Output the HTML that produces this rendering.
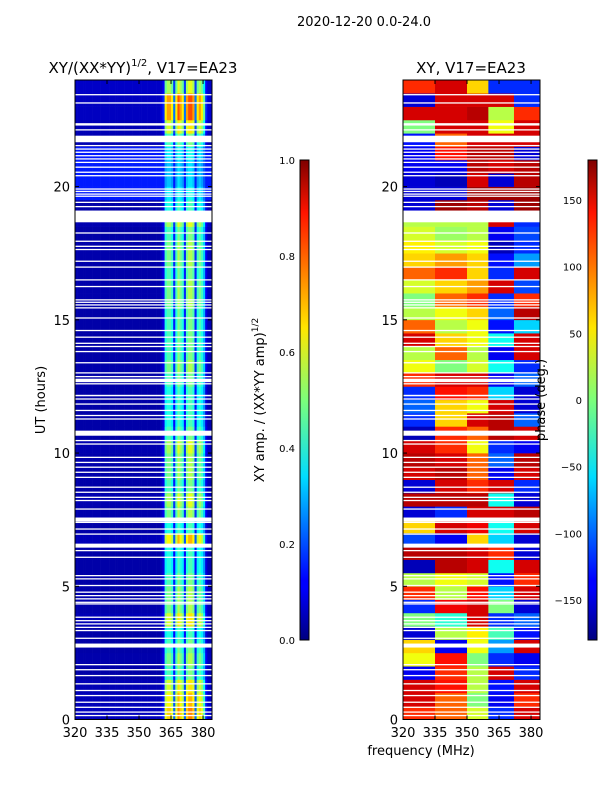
<!DOCTYPE html>
<html><head><meta charset="utf-8"><style>
body{margin:0;background:#fff;width:600px;height:800px;overflow:hidden}
svg{display:block;font-family:"DejaVu Sans","Liberation Sans",sans-serif}
</style></head><body>
<svg id="fig" width="600" height="800" xmlns="http://www.w3.org/2000/svg">
<defs>
<linearGradient id="jet" x1="0" y1="1" x2="0" y2="0">
<stop offset="0" stop-color="#00007f"/><stop offset="0.11" stop-color="#0000ff"/><stop offset="0.125" stop-color="#0000ff"/>
<stop offset="0.34" stop-color="#00dcff"/><stop offset="0.5" stop-color="#7cff7a"/><stop offset="0.65" stop-color="#ffe600"/>
<stop offset="0.89" stop-color="#ff1400"/><stop offset="1" stop-color="#7f0000"/>
</linearGradient>
</defs>
<text x="364" y="26" font-size="13" text-anchor="middle">2020-12-20 0.0-24.0</text>
<text x="143" y="73" font-size="15" text-anchor="middle">XY/(XX*YY)<tspan font-size="10" dy="-7">1/2</tspan><tspan dy="7">, V17=EA23</tspan></text>
<text x="471" y="73" font-size="15" text-anchor="middle">XY, V17=EA23</text>
<g id="left"></g>
<g id="right"></g>
<g id="axes"></g>
<text transform="translate(45,400) rotate(-90)" font-size="13" text-anchor="middle">UT (hours)</text>
<text x="421" y="755" font-size="13" text-anchor="middle">frequency (MHz)</text>
<rect x="300" y="160" width="9" height="480" fill="url(#jet)" stroke="#000" stroke-width="1"/>
<rect x="588" y="160" width="9" height="480" fill="url(#jet)" stroke="#000" stroke-width="1"/>
<text transform="translate(264,400) rotate(-90)" font-size="13" text-anchor="middle">XY amp. / (XX*YY amp)<tspan font-size="9" dy="-6">1/2</tspan></text>
<text transform="translate(545,400) rotate(-90)" font-size="13" text-anchor="middle">phase (deg.)</text>
</svg>
<script>
const colAmp=[0.04,0.04,0.04,0.04,0.04,0.04,0.04,0.04,0.04,0.04,0.04,0.04,0.04,0.04,0.04,0.04,0.04,0.04,0.04,0.04,0.04,0.04,0.04,0.04,0.04,0.04,0.04,0.04,0.04,0.04,0.04,0.04,0.04,0.04,0.04,0.04,0.04,0.04,0.04,0.04,
0.06,0.1,0.4,0.45,0.45,0.4,0.15,0.4,0.5,0.45,0.4,0.15,0.45,0.5,0.5,0.45,0.15,0.4,0.45,0.4,0.3,0.1,0.05,0.05];
const rowScale=[1.5,1.4,1.3,1.0,1.1,1.0,0.9,1.3,1.1,1.1,1.0,0.9,0.9,1.4,0.9,1.1,1.2,1.0,1.1,1.1,1.2,1.0,0.9,0.9,0.9,1.0,1.1,1.0,1.0,1.0,1.0,1.1,1.1,1.0,1.1,1.1,1.0,1.2,0.9,0.8,0.7,0.7,0.8,1.0,1.3,1.6,1.6,1.2];
const lowBg=[0.04,0.04,0.04,0.04,0.04,0.04,0.04,0.04,0.04,0.04,0.04,0.04,0.04,0.04,0.04,0.04,0.04,0.04,0.04,0.04,0.04,0.04,0.04,0.04,0.04,0.04,0.04,0.04,0.04,0.04,0.04,0.04,0.04,0.04,0.04,0.04,0.04,0.04,0.04,0.15,0.15,0.15,0.15,0.05,0.05,0.05,0.05,0.07];
const bandEdges=[320,335,350,360,372,384.2];
const phase=[[120,100,30,-120,150],[150,100,0,-140,120],[150,130,20,-130,150],[-140,120,20,150,-120],[40,130,0,-120,-140],[60,-140,40,-80,150],
[-150,20,50,-20,-130],[0,-30,150,-120,-100],[-120,140,150,0,-150],[120,20,130,-60,150],[20,40,30,-130,120],[-160,160,150,-40,150],
[160,160,150,120,-150],[-110,-140,60,-60,-150],[60,150,140,-40,150],[-150,-120,150,150,160],[160,160,160,-40,-150],[-150,150,120,150,-120],
[150,160,100,-140,150],[160,150,100,-100,160],[150,120,40,-120,-140],[-160,120,100,160,150],[-120,60,150,160,-100],[-100,60,40,150,-150],
[-120,130,120,-60,-150],[120,150,150,-140,-100],[40,0,30,-40,-120],[20,100,20,-140,150],[150,60,40,-40,150],[100,20,40,-130,-60],
[20,40,60,-100,160],[0,100,120,-120,120],[30,60,80,150,-110],[100,120,60,-120,150],[60,80,60,-130,-80],[50,30,40,-160,-120],
[30,10,20,-140,-110],[20,20,20,150,-120],[-150,170,160,-150,170],[-150,-150,170,170,170],[-150,-160,150,-150,160],[-140,-140,160,150,160],
[-140,130,160,160,-150],[-130,100,150,150,150],[0,150,150,40,150],[150,150,160,20,120],[-150,150,150,150,-120],[120,150,60,-120,-120]];
const flagThick=[[10.65,10.84],[7.43,7.58],[6.45,6.6],[2.7,2.85],[22.29,22.38],[21.7,21.91],[18.66,19.1],[12.66,12.79]];
const flagThin=[12.16,12.03,11.84,11.6,11.41,11.28,10.47,10.34,9.84,9.65,9.47,9.28,9.09,8.72,8.53,8.34,8.22,7.9,7.4,7.15,6.96,6.34,6.09,5.4,5.28,5.03,4.78,4.65,4.53,4.4,4.34,3.84,3.71,3.59,3.46,3.34,3.05,2.06,1.87,1.65,1.34,1.09,0.9,0.65,0.46,0.28,0.15,
23.45,23.14,22.13,21.69,21.54,21.41,21.29,21.16,21.04,20.91,20.73,20.54,20.41,19.91,19.82,19.72,19.64,19.41,19.25,18.26,17.95,17.76,17.64,17.2,16.98,16.5,16.25,15.75,15.66,15.56,15.45,15.07,14.6,14.35,14.12,14.0,13.81,13.39,13.01,12.87,12.6,12.16];
const xTicks=[320,335,350,365,380];
const yTicks=[0,5,10,15,20];
const cb1Ticks=[0,0.2,0.4,0.6,0.8,1.0];
const cb2Ticks=[-150,-100,-50,0,50,100,150];

const NS="http://www.w3.org/2000/svg";
const PT=80,PB=719.5,W=137,LX=75,RX=403;
const fMin=320,fMax=384.2;
const yS=h=>PB-(PB-PT)*h/24;
const xS=(x0,f)=>x0+W*(f-fMin)/(fMax-fMin);
function jet(v){v=Math.max(0,Math.min(1,v));
 const r=Math.max(0,Math.min(1,1.5-Math.abs(4*v-3))),g=Math.max(0,Math.min(1,1.5-Math.abs(4*v-2))),b=Math.max(0,Math.min(1,1.5-Math.abs(4*v-1)));
 return `rgb(${Math.round(r*255)},${Math.round(g*255)},${Math.round(b*255)})`;}
function mk(tag,attrs,parent){const e=document.createElementNS(NS,tag);for(const k in attrs)e.setAttribute(k,attrs[k]);parent.appendChild(e);return e;}
const L=document.getElementById('left'),R=document.getElementById('right'),A=document.getElementById('axes');
const nR=rowScale.length,dh=24/nR;
for(let r=0;r<nR;r++){
 const y0=yS((r+1)*dh),y1=yS(r*dh);
 for(let c=0;c<colAmp.length;c++){
  const v=Math.max(lowBg[r],colAmp[c]*rowScale[r]);
  const xa=xS(LX,fMin+c),xb=xS(LX,Math.min(fMax,fMin+c+1));
  const e=mk('rect',{x:xa,y:y0,width:xb-xa+0.3,height:y1-y0+0.3,fill:jet(v)},L);
  
  
 }
 for(let b=0;b<5;b++){
  const xa=xS(RX,bandEdges[b]),xb=xS(RX,bandEdges[b+1]);
  const e=mk('rect',{x:xa,y:y0,width:xb-xa+0.3,height:y1-y0+0.3,fill:jet((phase[r][b]+180)/360)},R);
  
  
 }
}
[LX,RX].forEach(x0=>{
 flagThick.forEach(f=>{const e=mk('rect',{x:x0,y:yS(f[1]),width:W,height:yS(f[0])-yS(f[1]),fill:'#fff'},A);
  });
 flagThin.forEach(h=>{const e=mk('rect',{x:x0,y:yS(h)-0.6,width:W,height:1.3,fill:'#fff'},A);
  });
 const fr=mk('rect',{x:x0,y:PT,width:W,height:PB-PT,fill:'none',stroke:'#000','stroke-width':1},A);
 
 xTicks.forEach(t=>{const x=xS(x0,t);
  mk('line',{x1:x,x2:x,y1:PB,y2:PB-4,stroke:'#000'},A);mk('line',{x1:x,x2:x,y1:PT,y2:PT+4,stroke:'#000'},A);
  const e=mk('text',{x:x,y:737,'font-size':13,'text-anchor':'middle'},A);e.textContent=t;
  });
 yTicks.forEach(t=>{const y=yS(t);
  mk('line',{x1:x0,x2:x0+4,y1:y,y2:y,stroke:'#000'},A);mk('line',{x1:x0+W,x2:x0+W-4,y1:y,y2:y,stroke:'#000'},A);
  const e=mk('text',{x:x0-5,y:y+5,'font-size':13,'text-anchor':'end'},A);e.textContent=t;
  });
});
cb1Ticks.forEach(t=>{const y=640-480*t;
 mk('line',{x1:305,x2:309,y1:y,y2:y,stroke:'#000'},A);
 const e=mk('text',{x:295,y:y+4,'font-size':10,'text-anchor':'end'},A);e.textContent=t.toFixed(1);
 });
cb2Ticks.forEach(t=>{const y=400-t*480/360;
 mk('line',{x1:593,x2:597,y1:y,y2:y,stroke:'#000'},A);
 const e=mk('text',{x:582,y:y+4,'font-size':10,'text-anchor':'end'},A);e.textContent=t<0?'\u2212'+(-t):t;
 });
</script>
</body></html>
